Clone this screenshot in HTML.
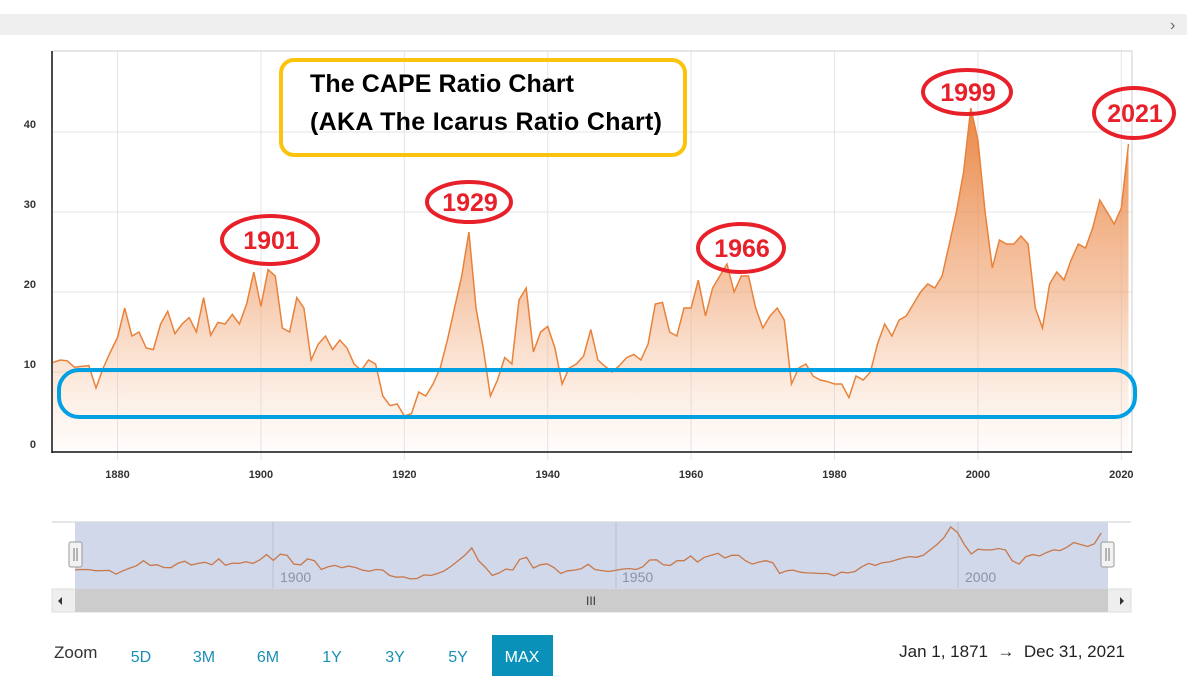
<!DOCTYPE html>
<html><head><meta charset="utf-8"><style>
body{margin:0;width:1187px;height:692px;background:#fff;overflow:hidden;font-family:"Liberation Sans",sans-serif}
svg{position:absolute;left:0;top:0}
</style></head><body>
<svg id="c" width="1187" height="692">
<defs>
<linearGradient id="g" gradientUnits="userSpaceOnUse" x1="0" y1="100" x2="0" y2="452">
<stop offset="0" stop-color="#e8803a" stop-opacity="0.98"/>
<stop offset="0.55" stop-color="#f0a574" stop-opacity="0.6"/>
<stop offset="1" stop-color="#f6c7a5" stop-opacity="0.05"/>
</linearGradient>
</defs>
<rect x="0" y="14" width="1187" height="21" fill="#efefef"/>
<text x="1170" y="30" font-size="16" fill="#666">›</text>
<g id="grid"></g>
<path id="area" fill="url(#g)"/>
<path id="line" fill="none" stroke="#e8823a" stroke-width="1.5"/>
<line x1="52" y1="51" x2="1132" y2="51" stroke="#ccc"/>
<line x1="1132" y1="51" x2="1132" y2="452" stroke="#ccc"/>
<line x1="52" y1="51" x2="52" y2="453" stroke="#111" stroke-width="1.5"/>
<line x1="52" y1="452" x2="1132" y2="452" stroke="#111" stroke-width="1.5"/>
<g id="ticks"></g>
<rect x="281" y="60" width="404" height="95" rx="13" fill="none" stroke="#fcc30c" stroke-width="4"/>
<text x="310" y="92" font-size="25" font-weight="bold" fill="#000" textLength="264">The CAPE Ratio Chart</text>
<text x="310" y="130" font-size="25" font-weight="bold" fill="#000" textLength="352">(AKA The Icarus Ratio Chart)</text>
<rect x="59" y="370" width="1076" height="47" rx="20" ry="20" fill="none" stroke="#00a0e3" stroke-width="4"/>
<g fill="none" stroke="#e8202a" stroke-width="4">
<ellipse cx="270" cy="240" rx="48" ry="24"/>
<ellipse cx="469" cy="202" rx="42" ry="20"/>
<ellipse cx="741" cy="248" rx="43" ry="24"/>
<ellipse cx="967" cy="92" rx="44" ry="22"/>
<ellipse cx="1134" cy="113" rx="40" ry="25"/>
</g>
<g font-size="25" font-weight="bold" fill="#e8202a" text-anchor="middle">
<text x="271" y="249">1901</text>
<text x="470" y="211">1929</text>
<text x="742" y="257">1966</text>
<text x="968" y="101">1999</text>
<text x="1135" y="122">2021</text>
</g>
<line x1="52" y1="522" x2="1131" y2="522" stroke="#ccc"/>
<rect x="75" y="522" width="1033" height="67" fill="#d0d8ea"/>
<g stroke="#b8c0d0"><line x1="273" y1="522" x2="273" y2="589"/><line x1="616" y1="522" x2="616" y2="589"/><line x1="958" y1="522" x2="958" y2="589"/></g>
<g font-size="14" fill="#8a93a8">
<text x="280" y="582">1900</text>
<text x="622" y="582">1950</text>
<text x="965" y="582">2000</text>
</g>
<path id="nav" fill="none" stroke="#c8784a" stroke-width="1.3"/>
<rect x="69" y="542" width="13" height="25" rx="2" fill="#f2f2f2" stroke="#999"/>
<rect x="1101" y="542" width="13" height="25" rx="2" fill="#f2f2f2" stroke="#999"/>
<g stroke="#777"><line x1="74" y1="548" x2="74" y2="561"/><line x1="77" y1="548" x2="77" y2="561"/><line x1="1106" y1="548" x2="1106" y2="561"/><line x1="1109" y1="548" x2="1109" y2="561"/></g>
<rect x="52" y="589" width="1079" height="23" fill="#eee" stroke="#ddd"/>
<rect x="75" y="589" width="1033" height="23" fill="#ccc"/>
<text x="591" y="605" font-size="12" fill="#333" text-anchor="middle">III</text>
<path d="M62 597 l-4 4 l4 4z" fill="#333"/>
<path d="M1120 597 l4 4 l-4 4z" fill="#333"/>
<text x="54" y="658" font-size="17" fill="#333">Zoom</text>
<g font-size="16" fill="#1a8fb5" text-anchor="middle">
<text x="141" y="662">5D</text>
<text x="204" y="662">3M</text>
<text x="268" y="662">6M</text>
<text x="332" y="662">1Y</text>
<text x="395" y="662">3Y</text>
<text x="458" y="662">5Y</text>
</g>
<rect x="492" y="635" width="61" height="41" fill="#0a91b9"/>
<text x="522" y="662" font-size="16" fill="#fff" text-anchor="middle">MAX</text>
<text x="1125" y="657" font-size="17" fill="#222" text-anchor="end">Jan 1, 1871 &#160;→&#160; Dec 31, 2021</text>
</svg>
<script>
const years=[];for(let y=1871;y<=2021;y++)years.push(y);
const cape=[11.2,11.5,11.4,10.6,10.7,10.8,8.0,10.5,12.5,14.3,18.0,14.5,15.0,13.0,12.8,16.0,17.6,14.8,16.0,16.8,15.0,19.3,14.6,16.2,16.0,17.2,16.0,18.5,22.5,18.2,22.8,22.0,15.5,15.0,19.3,18.0,11.5,13.5,14.5,12.8,14.0,13.0,11.0,10.2,11.5,11.0,7.0,5.8,6.0,4.5,4.8,7.5,7.0,8.5,10.5,14.0,18.0,22.0,27.5,18.0,13.0,7.0,9.0,11.8,11.0,19.0,20.5,12.5,15.0,15.7,13.0,8.5,10.5,11.0,12.0,15.3,11.5,10.7,10.0,10.8,11.8,12.2,11.5,13.5,18.5,18.7,15.0,14.5,18.0,18.0,21.5,17.0,20.5,22.0,23.5,20.0,22.0,22.0,18.0,15.5,17.0,18.0,16.5,8.5,10.5,11.0,9.5,9.0,8.8,8.5,8.5,6.8,9.5,9.0,10.0,13.5,16.0,14.5,16.5,17.0,18.5,20.0,21.0,20.5,22.0,26.0,30.0,35.0,43.0,39.0,30.0,23.0,26.5,26.0,26.0,27.0,26.0,18.0,15.5,21.0,22.5,21.5,24.0,26.0,25.5,28.0,31.5,30.0,28.5,30.5,38.5];
const yTicks=[0,10,20,30,40];
const xTicks=[1880,1900,1920,1940,1960,1980,2000,2020];
const NS='http://www.w3.org/2000/svg';
const xs=v=>53+(v-1871)*7.17, ys=v=>452-v*8;
const nx=v=>75+(v-1871)*(1033/151), ny=v=>585-v*1.35;
const grid=document.getElementById('grid'),ticks=document.getElementById('ticks');
yTicks.forEach(t=>{
 if(t>0){const l=document.createElementNS(NS,'line');l.setAttribute('x1',52);l.setAttribute('x2',1132);l.setAttribute('y1',ys(t));l.setAttribute('y2',ys(t));l.setAttribute('stroke','#e4e4e4');
 
 
 grid.appendChild(l);}
 const tx=document.createElementNS(NS,'text');tx.setAttribute('x',36);tx.setAttribute('y',ys(t)-4);tx.setAttribute('text-anchor','end');tx.setAttribute('font-size','11');tx.setAttribute('font-weight','bold');tx.setAttribute('fill','#333');tx.textContent=t;
 
 
 ticks.appendChild(tx);
});
xTicks.forEach(t=>{
 const l=document.createElementNS(NS,'line');l.setAttribute('x1',xs(t));l.setAttribute('x2',xs(t));l.setAttribute('y1',51);l.setAttribute('y2',460);l.setAttribute('stroke','#e4e4ec');
 
 
 grid.appendChild(l);
 const tx=document.createElementNS(NS,'text');tx.setAttribute('x',xs(t));tx.setAttribute('y',478);tx.setAttribute('text-anchor','middle');tx.setAttribute('font-size','11');tx.setAttribute('font-weight','bold');tx.setAttribute('fill','#333');tx.textContent=t;
 
 
 ticks.appendChild(tx);
});
let d='',nd='';
years.forEach((y,i)=>{d+=(i?'L':'M')+xs(y).toFixed(1)+' '+ys(cape[i]).toFixed(1);nd+=(i?'L':'M')+nx(y).toFixed(1)+' '+ny(cape[i]).toFixed(1);});
document.getElementById('line').setAttribute('d',d);
document.getElementById('area').setAttribute('d',d+'L'+xs(2021)+' 452L'+xs(1871)+' 452Z');
document.getElementById('nav').setAttribute('d',nd);
</script>
</body></html>
